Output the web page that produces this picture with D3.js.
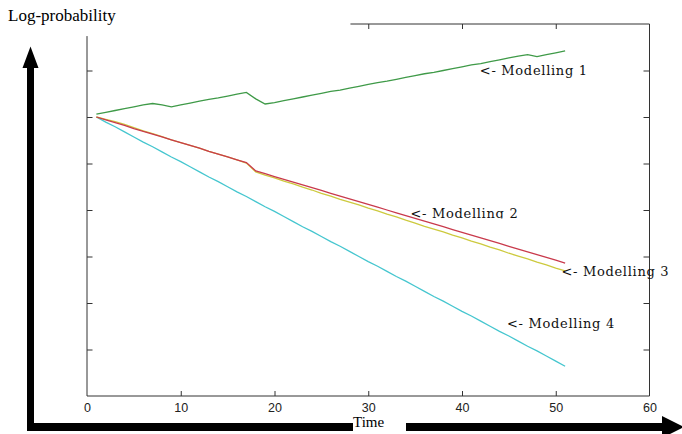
<!DOCTYPE html>
<html lang="en">
<head>
<meta charset="UTF-8">
<title>Log-probability over time</title>
<script src="https://d3js.org/d3.v7.min.js"></script>
<style>
  body { margin: 0; background: #fff; }
  svg { display: block; }
  .tick text { font-family: "Liberation Sans", Arial, sans-serif; font-size: 12.5px; fill: #222; }
  .tick line { stroke: #333; }
  .lbl { font-family: "DejaVu Serif", serif; font-size: 13px; letter-spacing: 0.7px; fill: #111; }
  .title { font-family: "Liberation Serif", "Times New Roman", serif; fill: #000; }
</style>
</head>
<body>
<svg width="682" height="434"></svg>
<script>
// time steps 1..51
const time = d3.range(1, 52);

const modelling1 = [0.06, 0.10, 0.14, 0.18, 0.22, 0.26, 0.29, 0.26, 0.22, 0.26,
  0.30, 0.34, 0.38, 0.41, 0.45, 0.49, 0.53, 0.39, 0.28, 0.31,
  0.35, 0.39, 0.43, 0.47, 0.51, 0.55, 0.58, 0.62, 0.66, 0.70,
  0.74, 0.77, 0.81, 0.85, 0.89, 0.93, 0.96, 1.00, 1.04, 1.08,
  1.12, 1.15, 1.19, 1.23, 1.27, 1.31, 1.34, 1.30, 1.34, 1.38, 1.42];

const modelling2 = [0, -0.06, -0.12, -0.18, -0.25, -0.31, -0.37, -0.43, -0.49, -0.55,
  -0.61, -0.67, -0.74, -0.80, -0.86, -0.92, -0.98, -1.16, -1.22, -1.28,
  -1.34, -1.40, -1.46, -1.52, -1.58, -1.64, -1.70, -1.76, -1.82, -1.88,
  -1.94, -2.00, -2.06, -2.12, -2.18, -2.24, -2.30, -2.36, -2.42, -2.48,
  -2.54, -2.60, -2.66, -2.72, -2.78, -2.84, -2.90, -2.96, -3.02, -3.08, -3.14];

const modelling3 = [0, -0.05, -0.10, -0.16, -0.23, -0.30, -0.36, -0.42, -0.49, -0.55,
  -0.61, -0.67, -0.74, -0.80, -0.86, -0.92, -0.99, -1.18, -1.25, -1.31,
  -1.38, -1.44, -1.51, -1.57, -1.64, -1.70, -1.77, -1.83, -1.89, -1.96,
  -2.02, -2.09, -2.15, -2.22, -2.28, -2.35, -2.41, -2.47, -2.54, -2.60,
  -2.67, -2.73, -2.80, -2.86, -2.93, -2.99, -3.05, -3.12, -3.18, -3.25, -3.31];

const modelling4 = [0, -0.11, -0.21, -0.32, -0.43, -0.54, -0.64, -0.75, -0.86, -0.96,
  -1.07, -1.18, -1.29, -1.39, -1.50, -1.61, -1.71, -1.82, -1.93, -2.03,
  -2.14, -2.25, -2.36, -2.46, -2.57, -2.68, -2.78, -2.89, -3.00, -3.11,
  -3.21, -3.32, -3.43, -3.53, -3.64, -3.75, -3.86, -3.96, -4.07, -4.18,
  -4.28, -4.39, -4.50, -4.61, -4.71, -4.82, -4.93, -5.03, -5.14, -5.25, -5.36];

const xTicks = [0, 10, 20, 30, 40, 50, 60];
const yTicks = [-5, -4, -3, -2, -1, 0, 1];

const series = [
  { name: "<- Modelling 1", values: modelling1, color: "#3f9a48", at: [41.9, 0.90] },
  { name: "<- Modelling 2", values: modelling2, color: "#c93a4c", at: [34.5, -2.17] },
  { name: "<- Modelling 3", values: modelling3, color: "#cdca3e", at: [50.6, -3.43] },
  { name: "<- Modelling 4", values: modelling4, color: "#45c6cf", at: [44.8, -4.54] }
];

const svg = d3.select("svg");

const x = d3.scaleLinear().domain([0, 60]).range([87, 649.5]);
const y = d3.scaleLinear().domain([-6, 2]).range([396, 24]);

// frame: only partly drawn in the original
const frame = svg.append("g").attr("stroke", "#333").attr("stroke-width", 1).attr("fill", "none");
frame.append("line").attr("x1", x(0)).attr("x2", x(60)).attr("y1", y(-6)).attr("y2", y(-6));
frame.append("line").attr("x1", x(0)).attr("x2", x(0)).attr("y1", y(-6)).attr("y2", y(1.74));
frame.append("line").attr("x1", x(60)).attr("x2", x(60)).attr("y1", y(-6)).attr("y2", y(2));
frame.append("line").attr("x1", x(28.1)).attr("x2", x(60)).attr("y1", y(2)).attr("y2", y(2));

// bottom axis, ticks pointing inward
svg.append("g")
  .attr("transform", `translate(0,${y(-6)})`)
  .call(d3.axisBottom(x).tickValues(xTicks).tickSize(-5).tickPadding(7).tickFormat(d3.format("d")))
  .call(g => g.select(".domain").remove())
  .call(g => g.selectAll(".tick line").filter(d => d === 0 || d === 60).remove());

// top ticks (only where the top border exists)
svg.append("g")
  .attr("transform", `translate(0,${y(2)})`)
  .call(d3.axisTop(x).tickValues([30, 40, 50]).tickSize(-5).tickFormat(""))
  .call(g => g.select(".domain").remove());

// left and right ticks, no labels
svg.append("g")
  .attr("transform", `translate(${x(0)},0)`)
  .call(d3.axisLeft(y).tickValues(yTicks).tickSize(-5.5).tickFormat(""))
  .call(g => g.select(".domain").remove());
svg.append("g")
  .attr("transform", `translate(${x(60)},0)`)
  .call(d3.axisRight(y).tickValues(yTicks).tickSize(-6).tickFormat(""))
  .call(g => g.select(".domain").remove());

// lines
const line = d3.line().x((d, i) => x(time[i])).y(d => y(d));
svg.append("g").selectAll("path")
  .data(series.slice().reverse())
  .join("path")
  .attr("fill", "none")
  .attr("stroke", d => d.color)
  .attr("stroke-width", 1.3)
  .attr("d", d => line(d.values));

// the "Modelling 2" label is cut off at the bottom in the original
svg.append("clipPath").attr("id", "cut2")
  .append("rect").attr("x", 0).attr("y", 0).attr("width", 682).attr("height", 218.5);

svg.append("g").selectAll("text")
  .data(series)
  .join("text")
  .attr("class", "lbl")
  .attr("x", d => x(d.at[0]))
  .attr("y", d => y(d.at[1]))
  .attr("clip-path", (d, i) => i === 1 ? "url(#cut2)" : null)
  .text(d => d.name);

// big hand-drawn style arrows
svg.append("path")
  .attr("fill", "#000")
  .attr("d", "M27,431 L27,68 L22.5,68 L30.5,46.5 L38.5,68 L34,68 L34,423 L353,423 L353,431 Z");
svg.append("path")
  .attr("fill", "#000")
  .attr("d", "M406,423 L662,423 L662,416 L684,427 L662,438 L662,431 L406,431 Z");

svg.append("text").attr("class", "title")
  .attr("x", 8).attr("y", 21)
  .style("font-size", "17px")
  .text("Log-probability");

svg.append("text").attr("class", "title")
  .attr("x", 353).attr("y", 427)
  .style("font-size", "15px")
  .text("Time");
</script>
</body>
</html>
